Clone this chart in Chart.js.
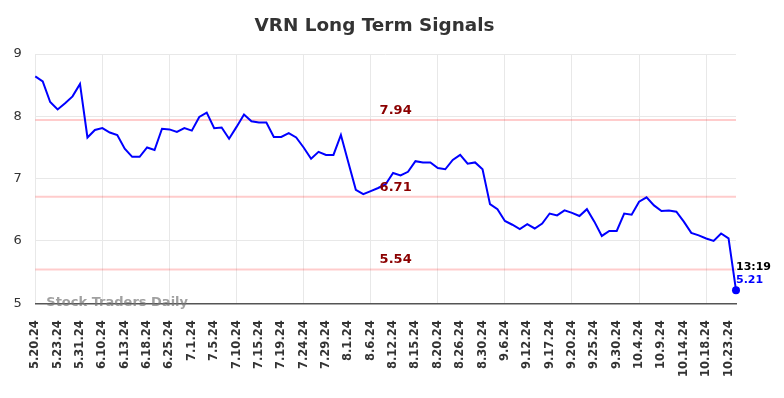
<!DOCTYPE html>
<html>
<head>
<meta charset="utf-8">
<script src="https://cdn.jsdelivr.net/npm/chart.js@4.4.0/dist/chart.umd.min.js"></script>
<style>
  html, body { margin: 0; padding: 0; background: #fff; }
  #wrap { width: 784px; height: 398px; }
</style>
</head>
<body>
<div id="wrap"><canvas id="myChart"></canvas></div>
<script>
// Daily dates (every 3rd one is shown on the axis)
const dates = [
    '5.20.24', '5.21.24', '5.22.24', '5.23.24', '5.24.24', '5.28.24', '5.31.24', '6.3.24', '6.6.24',
    '6.10.24', '6.11.24', '6.12.24', '6.13.24', '6.14.24', '6.17.24', '6.18.24', '6.20.24', '6.21.24',
    '6.25.24', '6.26.24', '6.28.24', '7.1.24', '7.2.24', '7.3.24', '7.5.24', '7.8.24', '7.9.24',
    '7.10.24', '7.11.24', '7.12.24', '7.15.24', '7.17.24', '7.18.24', '7.19.24', '7.22.24', '7.23.24',
    '7.24.24', '7.25.24', '7.26.24', '7.29.24', '7.30.24', '7.31.24', '8.1.24', '8.2.24', '8.5.24',
    '8.6.24', '8.7.24', '8.9.24', '8.12.24', '8.13.24', '8.14.24', '8.15.24', '8.16.24', '8.19.24',
    '8.20.24', '8.22.24', '8.23.24', '8.26.24', '8.27.24', '8.29.24', '8.30.24', '9.3.24', '9.4.24',
    '9.6.24', '9.9.24', '9.10.24', '9.12.24', '9.13.24', '9.16.24', '9.17.24', '9.18.24', '9.19.24',
    '9.20.24', '9.23.24', '9.24.24', '9.25.24', '9.26.24', '9.27.24', '9.30.24', '10.1.24', '10.3.24',
    '10.4.24', '10.7.24', '10.8.24', '10.9.24', '10.10.24', '10.11.24', '10.14.24', '10.15.24', '10.17.24',
    '10.18.24', '10.21.24', '10.22.24', '10.23.24', '10.24.24'
];

const prices = [
    8.64, 8.56, 8.23, 8.11, 8.21, 8.32, 8.52, 7.66, 7.78,
    7.81, 7.74, 7.70, 7.48, 7.35, 7.35, 7.50, 7.46, 7.80,
    7.79, 7.75, 7.81, 7.77, 7.99, 8.06, 7.81, 7.82, 7.64,
    7.83, 8.03, 7.92, 7.90, 7.90, 7.67, 7.67, 7.73, 7.66,
    7.50, 7.32, 7.43, 7.38, 7.38, 7.70, 7.26, 6.82, 6.75,
    6.80, 6.85, 6.91, 7.09, 7.05, 7.11, 7.28, 7.26, 7.26,
    7.17, 7.15, 7.30, 7.38, 7.24, 7.26, 7.15, 6.59, 6.51,
    6.32, 6.26, 6.19, 6.27, 6.20, 6.28, 6.44, 6.41, 6.49,
    6.45, 6.40, 6.51, 6.31, 6.08, 6.16, 6.16, 6.44, 6.42,
    6.63, 6.70, 6.57, 6.48, 6.49, 6.47, 6.31, 6.13, 6.09,
    6.04, 6.00, 6.12, 6.04, 5.21
];

// Signal levels (horizontal lines)
const levels = [7.94, 6.71, 5.54];
const lastTime = '13:19';
const title = 'VRN Long Term Signals';

const yTicks = [5, 6, 7, 8, 9];

const FONT = 'DejaVu Sans';

const levelSets = levels.map(v => ({
    data: dates.map(() => v),
    borderColor: 'rgba(255, 0, 0, 0.2)',
    borderWidth: 2,
    pointRadius: 0,
    fill: false
}));

const overlay = {
    id: 'overlay',
    afterDraw(chart) {
        const { ctx, chartArea, scales } = chart;
        const x = scales.x, y = scales.y;
        ctx.save();

        // title (drawn here so it can sit a little left of centre, like the original)
        ctx.font = 'bold 18.4px "' + FONT + '"';
        ctx.fillStyle = '#333';
        ctx.textAlign = 'center';
        ctx.textBaseline = 'middle';
        ctx.fillText(title, 374.5, 26);

        // level labels
        ctx.font = 'bold 13px "' + FONT + '"';
        ctx.fillStyle = '#8b0000';
        ctx.textBaseline = 'bottom';
        const cx = (chartArea.left + chartArea.right) / 2 + 10;
        levels.forEach(v => {
            ctx.fillText(v.toFixed(2), cx, y.getPixelForValue(v) - 3);
        });

        // last point labels
        const li = prices.length - 1;
        const px = x.getPixelForValue(li);
        const py = y.getPixelForValue(prices[li]);
        ctx.textAlign = 'left';
        ctx.textBaseline = 'middle';
        ctx.font = 'bold 11px "' + FONT + '"';
        ctx.fillStyle = '#000';
        ctx.fillText(lastTime, px, py - 23);
        ctx.fillStyle = '#0000ff';
        ctx.fillText(prices[li].toFixed(2), px, py - 10);

        // watermark
        ctx.font = 'bold 13px "' + FONT + '"';
        ctx.fillStyle = 'rgba(120, 120, 120, 0.7)';
        ctx.fillText('Stock Traders Daily', chartArea.left + 11, chartArea.bottom - 1);
        ctx.restore();
    }
};

const ctx = document.getElementById('myChart').getContext('2d');
const myChart = new Chart(ctx, {
    type: 'line',
    data: {
        labels: dates,
        datasets: [{
            data: prices,
            borderColor: '#0000ff',
            borderWidth: 2,
            pointRadius: c => c.dataIndex === prices.length - 1 ? 4 : 0,
            pointBackgroundColor: '#0000ff',
            pointBorderWidth: 0,
            tension: 0,
            fill: false
        }, ...levelSets]
    },
    options: {
        responsive: true,
        maintainAspectRatio: false,
        animation: false,
        layout: { padding: { left: 0, right: 48, top: 54, bottom: 4 } },
        plugins: {
            legend: { display: false },
            tooltip: { enabled: false },
            title: { display: false }
        },
        scales: {
            x: {
                offset: false,
                grid: {
                    color: c => c.index % 3 === 0 ? '#e8e8e8' : 'rgba(0,0,0,0)',
                    drawTicks: false
                },
                border: { color: '#555', width: 1.5 },
                ticks: {
                    autoSkip: false,
                    maxRotation: 90,
                    minRotation: 90,
                    padding: 17,
                    color: '#333',
                    font: { family: FONT, size: 11.5, weight: 'bold' },
                    callback: (v, i) => i % 3 === 0 ? dates[i] : null
                }
            },
            y: {
                min: yTicks[0],
                max: yTicks[yTicks.length - 1],
                afterBuildTicks: s => { s.ticks = yTicks.map(v => ({ value: v })); },
                grid: { color: '#e8e8e8', drawTicks: false },
                border: { display: false },
                ticks: {
                    padding: 13.5,
                    color: '#333',
                    font: { family: FONT, size: 13 }
                }
            }
        }
    },
    plugins: [overlay]
});
</script>
</body>
</html>
